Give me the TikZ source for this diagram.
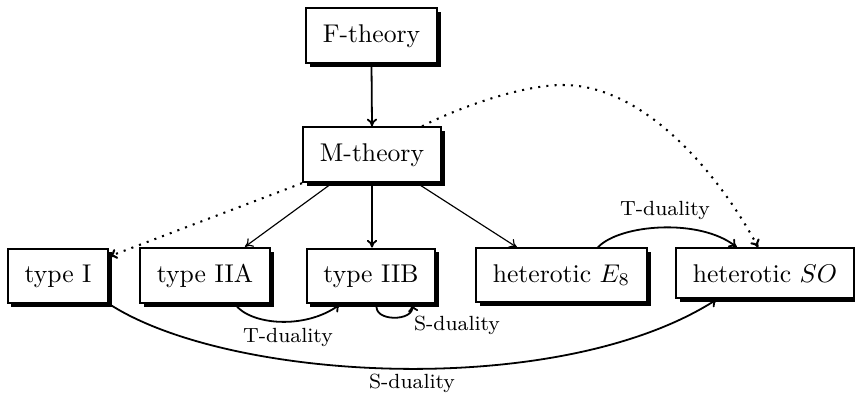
\documentclass[tikz,border=0pt]{standalone}
\usetikzlibrary{arrows.meta,shadows}
\begin{document}
\begin{tikzpicture}[x=0.39pt,y=-0.39pt,
  theory/.style={draw,line width=0.8pt,fill=white,inner xsep=6.6pt,inner ysep=6.2pt,anchor=base,
    font=\fontsize{10}{12}\selectfont,
    drop shadow={shadow xshift=1.5pt,shadow yshift=-1.5pt,fill=black,opacity=1}},
  lbl/.style={font=\fontsize{8}{10}\selectfont,inner sep=1pt},
  tip/.style={-{To[length=3pt,width=4pt]}},
  thick arr/.style={tip,line width=0.7pt},
  thin arr/.style={tip,line width=0.45pt},
  dotarr/.style={tip,line width=0.8pt,dash pattern=on 0.8pt off 2.4pt}]
\useasboundingbox (0,0) rectangle (855,392);
\node[theory] (F) at (371.5,42) {F-theory};
\node[theory] (M) at (372,161) {M-theory};
\node[theory] (t1) at (58,282) {type I};
\node[theory] (t2a) at (205,282) {type IIA};
\node[theory] (t2b) at (371,282) {type IIB};
\node[theory] (he) at (561.5,282) {heterotic $E_8$};
\node[theory] (hso) at (765,282) {heterotic $SO$};
% arrows from F and M
\draw[thick arr] (F.south) -- (M.north);
\draw[thin arr] ([xshift=-15.6pt]M.south) -- ([xshift=15.6pt]t2a.north);
\draw[thick arr] (M.south) -- (M.south |- t2b.north);
\draw[thin arr] ([xshift=17.6pt]M.south) -- ([xshift=-17.4pt]he.north);
\draw[dotarr] (M.south west) -- (t1);
\coordinate (peak) at (563,85);
\draw[dotarr] ([xshift=-7.8pt]M.north east) .. controls (462,106) and (523,85) .. (peak)
   .. controls (650,85) and (725,185) .. ([xshift=-2.7pt]hso.north);
% dualities
\draw[thick arr] ([xshift=11.7pt]t2a.south) .. controls (250,325) and (305,330) .. ([xshift=-12pt]t2b.south);
\node[lbl] (td1) at (288,337) {T-duality};
\draw[thick arr] ([xshift=2.3pt]t2b.south) .. controls (372,322) and (415,322) .. ([xshift=16pt]t2b.south);
\node[lbl] (sd1) at (457,325) {S-duality};
\draw[thick arr] ([xshift=14.2pt]he.north) .. controls (620,224) and (700,218) .. ([xshift=-11pt]hso.north);
\node[lbl] (td2) at (665,210) {T-duality};
\draw[thick arr] (t1.south east) .. controls (230,382) and (560,400) .. ([xshift=-18.7pt]hso.south);
\node[lbl] (sd2) at (412,383) {S-duality};
\end{tikzpicture}
\end{document}
